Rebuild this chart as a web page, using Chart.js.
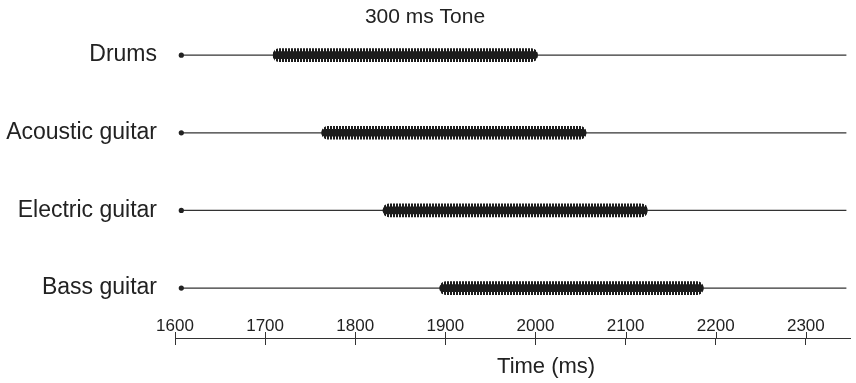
<!DOCTYPE html>
<html>
<head>
<meta charset="utf-8">
<script src="https://cdn.jsdelivr.net/npm/chart.js@4/dist/chart.umd.min.js"></script>
<style>
  html, body { margin: 0; background: #fff; }
  #wrap { width: 856px; height: 383px; position: relative; }
</style>
</head>
<body>
<div id="wrap"><canvas id="chart"></canvas></div>
<script>
// 300 ms tone bursts per instrument, time axis in ms
var trackNames = ["Drums", "Acoustic guitar", "Electric guitar", "Bass guitar"];
var toneOnset = [1709, 1763, 1831, 1894];
var toneOffset = [2002, 2056, 2124, 2186];
var traceStart = [1607, 1607, 1607, 1607];
var traceEnd = [2345, 2345, 2345, 2345];
var timeTicks = [1600, 1700, 1800, 1900, 2000, 2100, 2200, 2300];

var ink = "#222";
var burstInk = "#1c1c1c";

Chart.defaults.font.family = "'Liberation Sans', Arial, Helvetica, sans-serif";

// Drums on top, bass at the bottom
function rowOf(i) { return trackNames.length - 1 - i; }

// vertical stripes for the oscillating edge of the burst
function stripePattern() {
  var c = document.createElement("canvas");
  c.width = 3; c.height = 1;
  var g = c.getContext("2d");
  g.fillStyle = burstInk;
  g.fillRect(0, 0, 2, 1);
  return g.createPattern(c, "repeat");
}

var datasets = [];

trackNames.forEach(function (name, i) {
  datasets.push({
    type: "line",
    label: name,
    data: [{ x: traceStart[i], y: rowOf(i) }, { x: traceEnd[i], y: rowOf(i) }],
    borderColor: "#333",
    borderWidth: 1.3,
    pointRadius: [2.6, 0],
    pointBackgroundColor: ink,
    pointBorderWidth: 0,
    order: 3
  });
});

var burstData = trackNames.map(function (n, i) {
  return { x: [toneOnset[i], toneOffset[i]], y: rowOf(i) };
});

datasets.push({
  type: "bar",
  label: "burst edge",
  data: burstData,
  backgroundColor: stripePattern(),
  barThickness: 13,
  borderRadius: 6,
  borderSkipped: false,
  grouped: false,
  order: 2
});
datasets.push({
  type: "bar",
  label: "burst core",
  data: burstData,
  backgroundColor: burstInk,
  barThickness: 7,
  borderRadius: 3,
  borderSkipped: false,
  grouped: false,
  order: 1
});

function useTimeTicks(s) {
  s.ticks = timeTicks.map(function (v) { return { value: v }; });
}

// tick marks that cross the axis line (Chart.js only draws them below)
var crossTicks = {
  id: "crossTicks",
  afterDraw: function (chart) {
    var s = chart.scales.x2;
    var ctx = chart.ctx;
    ctx.save();
    ctx.strokeStyle = "#333";
    ctx.lineWidth = 1;
    ctx.beginPath();
    s.ticks.forEach(function (t) {
      var px = Math.round(s.getPixelForValue(t.value)) + 0.5;
      ctx.moveTo(px, s.top - 6);
      ctx.lineTo(px, s.top);
    });
    ctx.stroke();
    ctx.restore();
  }
};

new Chart(document.getElementById("chart"), {
  type: "bar",
  data: { datasets: datasets },
  options: {
    indexAxis: "y",
    responsive: true,
    maintainAspectRatio: false,
    animation: false,
    events: [],
    layout: { padding: { left: 0, right: 6, top: 0, bottom: 0 } },
    plugins: {
      legend: { display: false },
      tooltip: { enabled: false },
      title: {
        display: true,
        text: "300 ms Tone",
        color: ink,
        font: { size: 21, weight: "normal" },
        padding: { top: 5, bottom: 6 }
      }
    },
    scales: {
      x: {
        type: "linear",
        position: "bottom",
        min: 1600,
        max: 2349,
        weight: 0,
        grid: { display: false, drawTicks: false },
        border: { display: false },
        ticks: {
          includeBounds: false,
          padding: 4,
          color: ink,
          font: { size: 17 },
          maxRotation: 0,
          autoSkip: false,
          callback: function (v) { return String(v); }
        },
        afterBuildTicks: useTimeTicks,
        afterFit: function (s) { s.height = 26; }
      },
      x2: {
        type: "linear",
        axis: "x",
        position: "bottom",
        min: 1600,
        max: 2349,
        weight: 1,
        grid: { display: true, drawOnChartArea: false, drawTicks: true, tickLength: 7, color: "#333", lineWidth: 1 },
        border: { display: true, color: "#333", width: 1 },
        ticks: { display: false },
        afterBuildTicks: useTimeTicks,
        title: {
          display: true,
          text: "           Time (ms)",
          color: ink,
          font: { size: 22 },
          padding: { top: 0, bottom: 3 }
        },
        afterFit: function (s) { s.height = 45; }
      },
      y: {
        type: "linear",
        offset: false,
        min: -0.308,
        max: 3.244,
        grid: { display: false, drawTicks: false },
        border: { display: false },
        afterBuildTicks: function (s) {
          s.ticks = trackNames.map(function (n, i) { return { value: rowOf(i) }; }).reverse();
        },
        ticks: {
          padding: 18,
          color: ink,
          font: { size: 23 },
          callback: function (v) { return trackNames[trackNames.length - 1 - v]; }
        },
        afterFit: function (s) { s.width = 175; }
      }
    }
  },
  plugins: [crossTicks]
});
</script>
</body>
</html>
